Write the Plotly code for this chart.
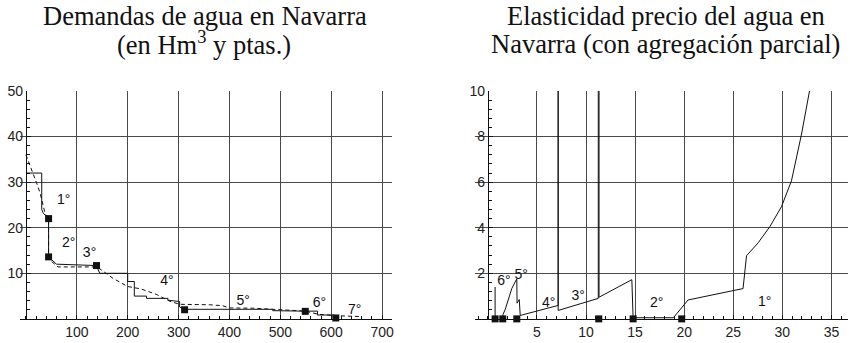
import plotly.graph_objects as go

# ---------------- Left chart: demand curves (Hm3, ptas.) ----------------
left_solid_x = [0, 31, 31, 34, 44.5, 44.5, 60, 138.6, 145, 200, 200, 213, 213, 237, 237, 279, 279, 302, 302, 311.8,
                485, 485, 549, 573, 573, 606, 609]
left_solid_y = [32, 32, 24, 23.2, 22, 13.6, 12.0, 11.7, 10, 10, 8.2, 8.2, 5.0, 5.0, 4.5, 4.5, 4.1, 3.8, 2.6, 2.1,
                2.1, 1.8, 1.7, 1.7, 0.85, 0.85, 0.15]
left_dash_x = [0, 5, 14, 24, 28, 33, 38, 44.5, 44.5, 50, 63, 138.6, 145, 171, 200, 225, 256, 282, 302, 360, 386,
               400, 445, 485, 549, 575, 609, 660]
left_dash_y = [36, 34.6, 31.8, 28.9, 27.5, 25, 23, 22, 13.6, 12.6, 11.4, 11.4, 11.0, 8.9, 7.1, 6.6, 5.4, 3.9, 3.2,
               3.1, 2.9, 2.4, 2.35, 2.1, 1.7, 1.0, 0.7, 0.5]
left_mark_x = [44.5, 44.5, 138.6, 311.8, 549, 609]
left_mark_y = [22, 13.6, 11.7, 2.0, 1.65, 0.2]
left_lab_text = ["1°", "2°", "3°", "4°", "5°", "6°", "7°"]
left_lab_x = [74, 84, 125, 277, 427, 577, 646]
left_lab_y = [25.9, 16.6, 14.3, 8.1, 3.9, 3.3, 1.9]
left_xticks = [100, 200, 300, 400, 500, 600, 700]
left_yticks = [10, 20, 30, 40, 50]

# ---------------- Right chart: price elasticity ----------------
right_x = [0.74, 0.74, None,
           1.52, 1.55, 1.76, 2.0, 2.27, 2.44, 2.78, 2.95, 2.98, 3.2, 3.3, 7.165, 7.165, 7.165,
           11.25, 11.25, 11.33, 11.33, 14.67, 14.8, 18.9, 20.4, 26.0, 26.35, 27.54, 28.73, 29.91, 30.93, 31.94, 32.8]
right_y = [0, 1.4, None,
           0, 0.2, 0.4, 0.76, 1.05, 1.33, 1.62, 1.76, 0.69, 0.85, 0.15, 0.59, 10.5, 0.37,
           0.9, 10.5, 10.5, 0.95, 1.72, 0.05, 0.05, 0.83, 1.33, 2.77, 3.34, 4.05, 4.92, 6.06, 8.07, 10.07]
right_mark_x = [0.74, 1.52, 2.95, 11.3, 14.8, 19.75]
right_mark_y = [0, 0, 0, 0, 0, 0]
right_lab_text = ["6°", "5°", "4°", "3°", "2°", "1°"]
right_lab_x = [1.65, 3.4, 6.2, 9.2, 17.2, 28.2]
right_lab_y = [1.66, 1.91, 0.69, 0.98, 0.69, 0.73]
right_xticks = [5, 10, 15, 20, 25, 30, 35]
right_yticks = [2, 4, 6, 8, 10]

W, H = 850, 343
INK = "#111111"
GRID = "#4a4a4a"
SANS = "Liberation Sans, Arial, sans-serif"
SERIF = "Liberation Serif, Times New Roman, serif"

fig = go.Figure()

fig.add_trace(go.Scatter(x=left_solid_x, y=left_solid_y, mode="lines", line=dict(color=INK, width=1),
                         xaxis="x", yaxis="y", showlegend=False))
fig.add_trace(go.Scatter(x=left_dash_x, y=left_dash_y, mode="lines",
                         line=dict(color=INK, width=1, dash="4px,3px"),
                         xaxis="x", yaxis="y", showlegend=False))
fig.add_trace(go.Scatter(x=left_mark_x, y=left_mark_y, mode="markers",
                         marker=dict(symbol="square", size=7, color=INK),
                         xaxis="x", yaxis="y", showlegend=False, cliponaxis=False))
fig.add_trace(go.Scatter(x=left_lab_x, y=left_lab_y, mode="text", text=left_lab_text,
                         textfont=dict(family=SANS, size=14, color=INK),
                         xaxis="x", yaxis="y", showlegend=False, cliponaxis=False))

fig.add_trace(go.Scatter(x=right_x, y=right_y, mode="lines", line=dict(color=INK, width=1),
                         xaxis="x2", yaxis="y2", showlegend=False, connectgaps=False))
fig.add_trace(go.Scatter(x=right_mark_x, y=right_mark_y, mode="markers",
                         marker=dict(symbol="square", size=7, color=INK),
                         xaxis="x2", yaxis="y2", showlegend=False, cliponaxis=False))
fig.add_trace(go.Scatter(x=right_lab_x, y=right_lab_y, mode="text", text=right_lab_text,
                         textfont=dict(family=SANS, size=14, color=INK),
                         xaxis="x2", yaxis="y2", showlegend=False, cliponaxis=False))

# pixel helpers
def px_x(p):
    return p / W

def px_y(p):
    return 1 - p / H

y_dom = [px_y(318.3), px_y(85)]

common_axis = dict(showgrid=True, gridcolor=GRID, gridwidth=1, zeroline=False,
                   showline=True, linecolor=INK, linewidth=1,
                   ticks="inside", ticklen=4, tickcolor=INK,
                   tickfont=dict(family=SANS, size=14, color="#222"))

fig.update_layout(
    width=W, height=H, margin=dict(l=0, r=0, t=0, b=0),
    paper_bgcolor="white", plot_bgcolor="white",
    xaxis=dict(domain=[px_x(20), px_x(393)], range=[-11.8, 719.6], anchor="y",
               tickmode="array", tickvals=left_xticks,
               minor=dict(ticks="inside", ticklen=3, dtick=20, tick0=0, tickcolor=INK, showgrid=False),
               **common_axis),
    yaxis=dict(domain=y_dom, range=[0, 50], anchor="free", position=px_x(26),
               tickmode="array", tickvals=left_yticks,
               minor=dict(ticks="inside", ticklen=3, dtick=2, tick0=0, tickcolor=INK, showgrid=False),
               **common_axis),
    xaxis2=dict(domain=[px_x(476), 1.0], range=[-1.32, 36.69], anchor="y2",
                tickmode="array", tickvals=right_xticks,
                minor=dict(ticks="inside", ticklen=3, dtick=1, tick0=0, tickcolor=INK, showgrid=False),
                **common_axis),
    yaxis2=dict(domain=y_dom, range=[0, 10], anchor="free", position=px_x(489),
                tickmode="array", tickvals=right_yticks,
                minor=dict(ticks="inside", ticklen=3, dtick=0.4, tick0=0, tickcolor=INK, showgrid=False),
                **common_axis),
)

titles = [
    ("Demandas de agua en Navarra", 205.5, 8),
    ("(en Hm<sup>3</sup> y ptas.)", 204, 36),
    ("Elasticidad precio del agua en", 668, 8),
    ("Navarra (con agregación parcial)", 667.5, 37),
]
for txt, cx, cy in titles:
    fig.add_annotation(text=txt, x=px_x(cx), y=px_y(cy), xref="paper", yref="paper",
                       xanchor="center", yanchor="middle", showarrow=False,
                       font=dict(family=SERIF, size=26.5, color="#111"))

fig.write_html("out.html", config={"displayModeBar": False},
               post_script="document.body.style.margin='0';document.body.style.overflow='hidden';")
